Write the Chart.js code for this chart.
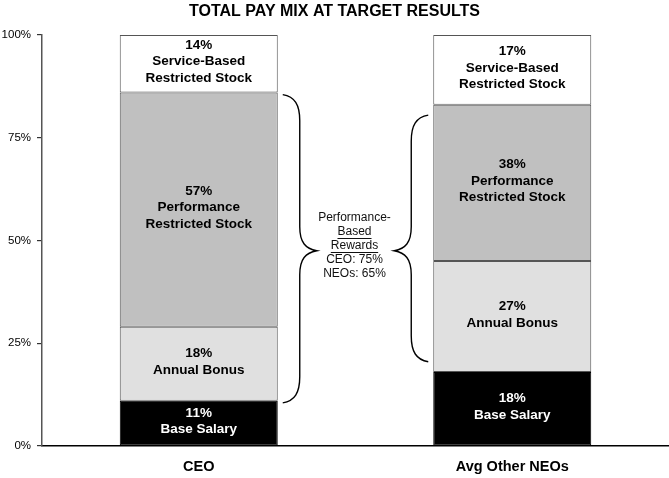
<!DOCTYPE html>
<html>
<head>
<meta charset="utf-8">
<script src="https://cdn.jsdelivr.net/npm/chart.js@4.4.1/dist/chart.umd.min.js"></script>
<style>
  html, body { margin: 0; padding: 0; background: #ffffff; }
  canvas { display: block; }
</style>
</head>
<body>
<canvas id="c" width="669" height="478"></canvas>
<script>
// ---- data ----
const categories = ['CEO', 'Avg Other NEOs'];
const baseSalary = [11, 18];
const annualBonus = [18, 27];
const performanceStock = [57, 38];
const serviceStock = [14, 17];
const yTickValues = [0, 25, 50, 75, 100];
const segmentNames = [
  ['Base Salary'],
  ['Annual Bonus'],
  ['Performance', 'Restricted Stock'],
  ['Service-Based', 'Restricted Stock']
];
// brace spans (value range on y axis) for each category
const braceLow = [10.5, 20.5];
const braceHigh = [85.5, 80.5];
const braceCuspValue = 47.5;
const calloutLines = ['Performance-', 'Based', 'Rewards', 'CEO: 75%', 'NEOs: 65%'];
const calloutUnderlined = [false, true, true, false, false];

const FONT = '"Liberation Sans", Arial, Helvetica, sans-serif';

const segmentLabels = {
  id: 'segmentLabels',
  afterDatasetsDraw(chart) {
    const ctx = chart.ctx;
    ctx.save();
    ctx.font = 'bold 13.5px ' + FONT;
    ctx.textAlign = 'center';
    ctx.textBaseline = 'middle';
    chart.data.datasets.forEach((ds, i) => {
      const meta = chart.getDatasetMeta(i);
      meta.data.forEach((el, j) => {
        const lines = [ds.data[j] + '%'].concat(segmentNames[i]);
        const lh = 16.5;
        const cy = (el.y + el.base) / 2 - 2;
        const startY = cy - (lines.length - 1) * lh / 2;
        ctx.fillStyle = i === 0 ? '#ffffff' : '#000000';
        lines.forEach((t, k) => ctx.fillText(t, el.x, startY + k * lh));
      });
    });
    ctx.restore();
  }
};

const braces = {
  id: 'braces',
  afterDatasetsDraw(chart) {
    const ctx = chart.ctx;
    const y = chart.scales.y;
    const meta = chart.getDatasetMeta(0);
    const yC = y.getPixelForValue(braceCuspValue);
    ctx.save();
    ctx.strokeStyle = '#000';
    ctx.lineWidth = 1.4;
    const edges = [];
    meta.data.forEach((el, j) => {
      const dir = j === 0 ? 1 : -1;
      const edge = el.x + dir * el.width / 2;
      edges.push(edge);
      const x0 = edge + dir * 5;
      const x1 = x0 + dir * 17;
      const x2 = x1 + dir * 17;
      const yT = y.getPixelForValue(braceHigh[j]);
      const yB = y.getPixelForValue(braceLow[j]);
      ctx.beginPath();
      ctx.moveTo(x0, yT);
      ctx.bezierCurveTo(x0 + dir * 12, yT + 2, x1, yT + 10, x1, yT + 26);
      ctx.lineTo(x1, yC - 24);
      ctx.bezierCurveTo(x1, yC - 8, x1 + dir * 6, yC - 2, x2, yC);
      ctx.bezierCurveTo(x1 + dir * 6, yC + 2, x1, yC + 8, x1, yC + 24);
      ctx.lineTo(x1, yB - 26);
      ctx.bezierCurveTo(x1, yB - 10, x0 + dir * 12, yB - 2, x0, yB);
      ctx.stroke();
    });
    // callout text
    const cx = (edges[0] + edges[1]) / 2 - 1;
    const lh = 14.2;
    const startY = yC - 5 - (calloutLines.length - 1) * lh / 2;
    ctx.font = '12px ' + FONT;
    ctx.fillStyle = '#111';
    ctx.textAlign = 'center';
    ctx.textBaseline = 'middle';
    calloutLines.forEach((t, k) => {
      const ty = startY + k * lh;
      ctx.fillText(t, cx, ty);
      if (calloutUnderlined[k]) {
        const w = ctx.measureText(t).width;
        ctx.beginPath();
        ctx.lineWidth = 1;
        ctx.strokeStyle = '#111';
        ctx.moveTo(cx - w / 2, Math.round(ty + 6) + 0.5);
        ctx.lineTo(cx + w / 2, Math.round(ty + 6) + 0.5);
        ctx.stroke();
      }
    });
    ctx.restore();
  }
};

const common = { borderColor: '#555555', borderWidth: 1, borderSkipped: false,
  barPercentage: 0.504, categoryPercentage: 1.0 };

new Chart(document.getElementById('c'), {
  type: 'bar',
  data: {
    labels: categories,
    datasets: [
      Object.assign({ label: 'Base Salary', data: baseSalary, backgroundColor: '#000000', borderColor: '#000000' }, { borderWidth: 1, borderSkipped: false, barPercentage: 0.504, categoryPercentage: 1.0 }),
      Object.assign({ label: 'Annual Bonus', data: annualBonus, backgroundColor: '#e0e0e0' }, common),
      Object.assign({ label: 'Performance Restricted Stock', data: performanceStock, backgroundColor: '#c0c0c0' }, common),
      Object.assign({ label: 'Service-Based Restricted Stock', data: serviceStock, backgroundColor: '#ffffff' }, common)
    ]
  },
  options: {
    responsive: false,
    animation: false,
    devicePixelRatio: 1,
    layout: { padding: 0 },
    plugins: {
      legend: { display: false },
      tooltip: { enabled: false },
      title: {
        display: true,
        text: 'TOTAL PAY MIX AT TARGET RESULTS',
        color: '#000',
        font: { family: FONT, size: 16, weight: 'bold' },
        padding: { top: 2, bottom: 13.8 }
      }
    },
    scales: {
      x: {
        stacked: true,
        grid: { display: false, drawTicks: false },
        border: { display: true, color: '#000', width: 1.5 },
        ticks: { color: '#000', font: { family: FONT, size: 14.5, weight: 'bold' }, padding: 12 },
        afterFit(s) { s.height = 32; }
      },
      y: {
        stacked: true,
        min: 0, max: 100,
        afterBuildTicks(s) { s.ticks = yTickValues.map(v => ({ value: v })); },
        grid: { display: true, drawOnChartArea: false, drawTicks: true, tickLength: 5, color: '#333', lineWidth: 1.2 },
        border: { display: true, color: '#555', width: 1.5 },
        ticks: { color: '#000', font: { family: FONT, size: 11.5 }, padding: 6, callback: v => v + '%' },
        afterFit(s) { s.width = 42; }
      }
    }
  },
  plugins: [segmentLabels, braces]
});
</script>
</body>
</html>
